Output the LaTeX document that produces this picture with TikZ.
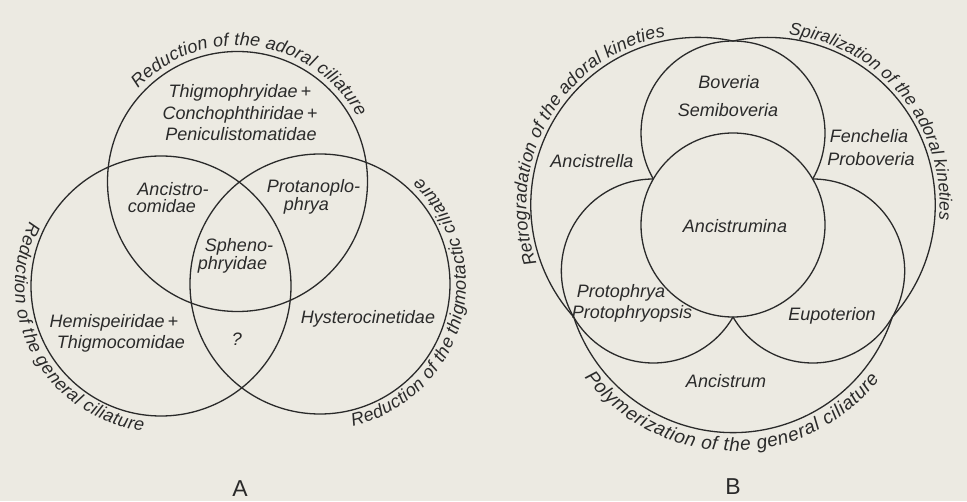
\documentclass[tikz,border=0pt]{standalone}
\usepackage{fontspec}
\setmainfont{Liberation Sans}
\usetikzlibrary{decorations.text,calc}
\definecolor{paper}{RGB}{236,234,226}
\definecolor{ink}{RGB}{42,42,42}
\newcommand{\lblfont}{\fontsize{18}{21}\selectfont\itshape}
\newcommand{\arcfont}{\fontsize{18}{21}\selectfont\itshape}
\newcommand{\arcfontS}{\fontsize{17.5}{21}\selectfont\itshape}
\newcommand{\arcfontP}{\fontsize{19}{22}\selectfont\itshape}
\begin{document}
\begin{tikzpicture}[x=1pt,y=1pt,
  ring/.style={draw=ink, line width=1.3pt},
  lbl/.style={font=\lblfont, text=ink, inner sep=0pt, text height=12pt, text depth=0pt, anchor=center},
  letter/.style={font=\fontsize{23}{26}\selectfont, text=ink, inner sep=0pt, text height=16pt, text depth=0pt, anchor=center}]
\fill[paper] (0,0) rectangle (967,501);
\useasboundingbox (0,0) rectangle (967,501);

% ---------------- Diagram A ----------------
\coordinate (At) at (237.5,319.5);
\coordinate (Al) at (161,215);
\coordinate (Ar) at (320,217);
\draw[ring] (At) circle[radius=130];
\draw[ring] (Al) circle[radius=130];
\draw[ring] (Ar) circle[radius=130];

\path[decorate, decoration={text along path, text color=ink, text align=fit to path,
  text={|\arcfont|Reduction of the adoral ciliature}}]
  ($(At)+(137:136)$) arc[start angle=137, end angle=28, radius=136];
\path[decorate, decoration={text along path, text color=ink, text align=fit to path,
  text={|\arcfont|Reduction of the general ciliature}}]
  ($(Al)+(154:146)$) arc[start angle=154, end angle=263, radius=146];
\path[decorate, decoration={text along path, text color=ink, text align=fit to path,
  text={|\arcfont|Reduction of the thigmotactic ciliature}}]
  ($(Ar)+(-77:146)$) arc[start angle=-77, end angle=47, radius=146];

\node[lbl] (thig) at (240,409) {Thigmophryidae\,+};
\node[lbl] (conch) at (240,387) {Conchophthiridae\,+};
\node[lbl] (penic) at (241,366) {Peniculistomatidae};
\node[lbl] (ancA) at (173,311) {Ancistro-};
\node[lbl] (ancB) at (162,294) {comidae};
\node[lbl] (protA) at (313.5,314) {Protanoplo-};
\node[lbl] (protB) at (306.5,296) {phrya};
\node[lbl] (sphA) at (239,255) {Spheno-};
\node[lbl] (sphB) at (232.5,237) {phryidae};
\node[lbl] (hemA) at (114,179) {Hemispeiridae\,+};
\node[lbl] (hemB) at (121,158) {Thigmocomidae};
\node[lbl] (qm) at (237,161) {?};
\node[lbl] (hyst) at (368,183) {Hysterocinetidae};
\node[letter] (labA) at (240,13) {A};

% ---------------- Diagram B ----------------
\coordinate (C0) at (733,276);
\coordinate (ST) at ($(C0)+(90:92)$);
\coordinate (SL) at ($(C0)+(210:92)$);
\coordinate (SR) at ($(C0)+(330:92)$);
\coordinate (QL) at ($(C0)+(150:40)$);
\coordinate (QR) at ($(C0)+(30:40)$);
\coordinate (QB) at ($(C0)+(270:40)$);

\draw[ring] (C0) circle[radius=92];
\draw[ring] ($(ST)+(-30:92)$) arc[start angle=-30, end angle=210, radius=92];
\draw[ring] ($(SL)+(90:92)$) arc[start angle=90, end angle=330, radius=92];
\draw[ring] ($(SR)+(210:92)$) arc[start angle=210, end angle=450, radius=92];
\draw[ring] ($(QL)+(78.07:167.6)$) arc[start angle=78.07, end angle=221.93, radius=167.6];
\draw[ring] ($(QR)+(-41.93:167.6)$) arc[start angle=-41.93, end angle=101.93, radius=167.6];
\draw[ring] ($(QB)+(198.07:167.6)$) arc[start angle=198.07, end angle=341.93, radius=167.6];

\path[decorate, decoration={text along path, text color=ink, text align=fit to path,
  text={|\arcfont|Retrogradation of the adoral kineties}}]
  ($(QL)+(200:172)$) arc[start angle=200, end angle=101, radius=172];
\path[decorate, decoration={text along path, text color=ink, text align=fit to path,
  text={|\arcfontS|Spiralization of the adoral kineties}}]
  ($(QR)+(83:172)$) arc[start angle=83, end angle=-5, radius=172];
\path[decorate, decoration={text along path, text color=ink, text align=fit to path,
  text={|\arcfontP|Polymerization of the general ciliature}}]
  ($(QB)+(217:186)$) arc[start angle=217, end angle=322, radius=186];

\node[lbl] (bov) at (729,418) {Boveria};
\node[lbl] (semi) at (728,390) {Semiboveria};
\node[lbl] (ancl) at (592,339) {Ancistrella};
\node[lbl] (fen) at (869,364) {Fenchelia};
\node[lbl] (prob) at (871,341) {Proboveria};
\node[lbl] (ancm) at (735,274) {Ancistrumina};
\node[lbl] (proA) at (621,209) {Protophrya};
\node[lbl] (proB) at (632,188) {Protophryopsis};
\node[lbl] (eup) at (832,186) {Eupoterion};
\node[lbl] (ancs) at (726,119) {Ancistrum};
\node[letter] (labB) at (733,14) {B};
\end{tikzpicture}
\end{document}
